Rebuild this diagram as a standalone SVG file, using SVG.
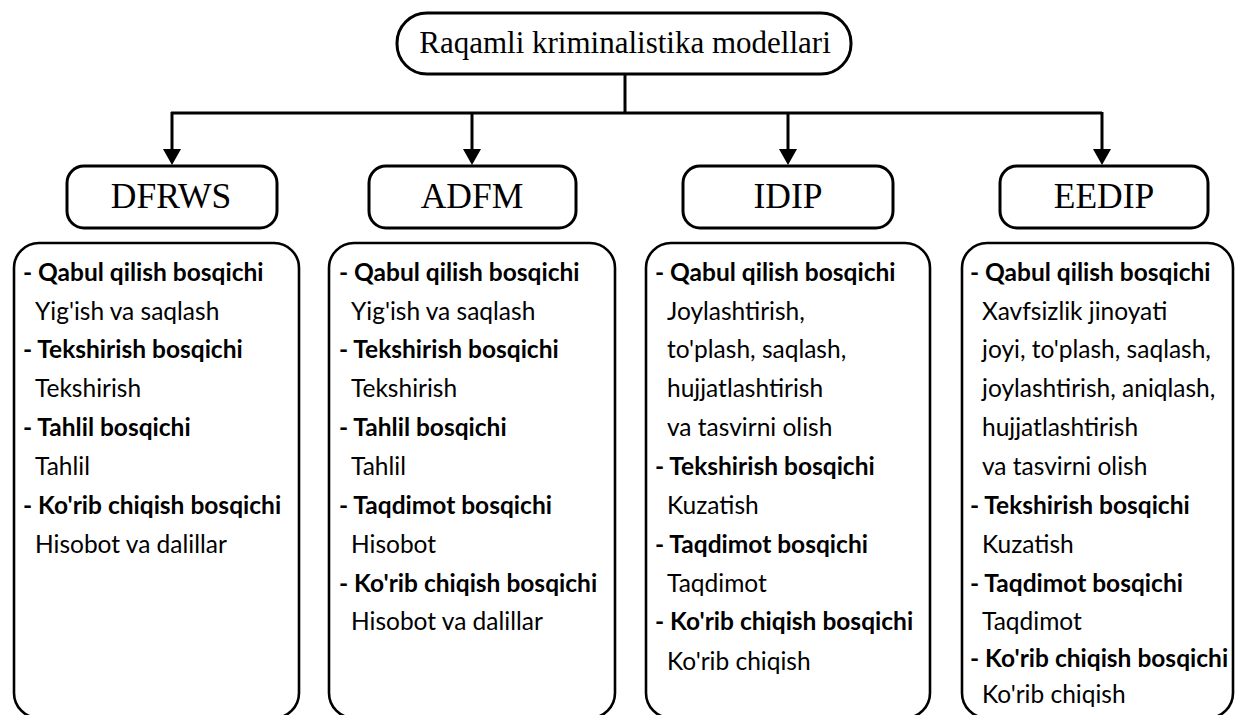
<svg xmlns="http://www.w3.org/2000/svg" width="1236" height="715" viewBox="0 0 1236 715">
<defs>
<style>
.box{fill:#fff;stroke:#000;stroke-width:3}
.cbox{fill:#fff;stroke:#000;stroke-width:2.6}
.conn{fill:none;stroke:#000;stroke-width:3}
.title{font-family:"Liberation Serif","Times New Roman",serif;font-size:31px;fill:#000}
.head{font-family:"Liberation Serif","Times New Roman",serif;font-size:35.5px;fill:#000}
.b{font-family:Lato,"Open Sans",sans-serif;font-size:24.5px;font-weight:bold;fill:#000}
.n{font-family:Lato,"Open Sans",sans-serif;font-size:24.5px;fill:#000}
</style>
<marker id="arr" markerUnits="userSpaceOnUse" markerWidth="18" markerHeight="18" refX="0" refY="9" orient="auto">
<path d="M0,0 L16,9 L0,18 z" fill="#000"/>
</marker>
</defs>
<rect width="1236" height="715" fill="#fff"/>
<g id="connectors">
<line class="conn" x1="625" y1="74" x2="625" y2="113"/>
<line class="conn" x1="171" y1="113" x2="1102" y2="113"/>
<line class="conn" x1="172" y1="112" x2="172" y2="149" marker-end="url(#arr)"/>
<line class="conn" x1="472" y1="112" x2="472" y2="149" marker-end="url(#arr)"/>
<line class="conn" x1="788" y1="112" x2="788" y2="149" marker-end="url(#arr)"/>
<line class="conn" x1="1102" y1="112" x2="1102" y2="149" marker-end="url(#arr)"/>
</g>
<g id="root">
<rect class="box" x="397" y="13" width="454" height="61" rx="30"/>
<text class="title" x="625" y="53" text-anchor="middle">Raqamli kriminalistika modellari</text>
</g>
<g id="dfrws">
<rect class="box" x="67" y="166" width="210" height="62" rx="17"/>
<text class="head" x="171" y="208" text-anchor="middle">DFRWS</text>
</g>
<g id="adfm">
<rect class="box" x="369" y="166" width="207" height="62" rx="17"/>
<text class="head" x="472" y="208" text-anchor="middle">ADFM</text>
</g>
<g id="idip">
<rect class="box" x="683" y="166" width="210" height="62" rx="17"/>
<text class="head" x="788" y="208" text-anchor="middle">IDIP</text>
</g>
<g id="eedip">
<rect class="box" x="1000" y="166" width="208" height="62" rx="17"/>
<text class="head" x="1104" y="208" text-anchor="middle">EEDIP</text>
</g>
<g id="dfrws-details">
<rect class="cbox" x="14" y="243" width="285" height="475" rx="25"/>
<text class="b" x="23" y="281">- Qabul qilish bosqichi</text>
<text class="n" x="35" y="320">Yig'ish va saqlash</text>
<text class="b" x="23" y="358">- Tekshirish bosqichi</text>
<text class="n" x="35" y="397">Tekshirish</text>
<text class="b" x="23" y="436">- Tahlil bosqichi</text>
<text class="n" x="35" y="475">Tahlil</text>
<text class="b" x="23" y="514">- Ko'rib chiqish bosqichi</text>
<text class="n" x="35" y="553">Hisobot va dalillar</text>
</g>
<g id="adfm-details">
<rect class="cbox" x="329" y="243" width="286" height="475" rx="25"/>
<text class="b" x="339" y="281">- Qabul qilish bosqichi</text>
<text class="n" x="351" y="320">Yig'ish va saqlash</text>
<text class="b" x="339" y="358">- Tekshirish bosqichi</text>
<text class="n" x="351" y="397">Tekshirish</text>
<text class="b" x="339" y="436">- Tahlil bosqichi</text>
<text class="n" x="351" y="475">Tahlil</text>
<text class="b" x="339" y="514">- Taqdimot bosqichi</text>
<text class="n" x="351" y="553">Hisobot</text>
<text class="b" x="339" y="592">- Ko'rib chiqish bosqichi</text>
<text class="n" x="351" y="630">Hisobot va dalillar</text>
</g>
<g id="idip-details">
<rect class="cbox" x="646" y="243" width="284" height="475" rx="25"/>
<text class="b" x="655" y="281">- Qabul qilish bosqichi</text>
<text class="n" x="667" y="320">Joylashtirish,</text>
<text class="n" x="667" y="358">to'plash, saqlash,</text>
<text class="n" x="667" y="397">hujjatlashtirish</text>
<text class="n" x="667" y="436">va tasvirni olish</text>
<text class="b" x="655" y="475">- Tekshirish bosqichi</text>
<text class="n" x="667" y="514">Kuzatish</text>
<text class="b" x="655" y="553">- Taqdimot bosqichi</text>
<text class="n" x="667" y="592">Taqdimot</text>
<text class="b" x="655" y="630">- Ko'rib chiqish bosqichi</text>
<text class="n" x="667" y="670">Ko'rib chiqish</text>
</g>
<g id="eedip-details">
<rect class="cbox" x="962" y="243" width="271" height="475" rx="25"/>
<text class="b" x="970" y="281">- Qabul qilish bosqichi</text>
<text class="n" x="982" y="320">Xavfsizlik jinoyati</text>
<text class="n" x="982" y="358">joyi, to'plash, saqlash,</text>
<text class="n" x="982" y="397">joylashtirish, aniqlash,</text>
<text class="n" x="982" y="436">hujjatlashtirish</text>
<text class="n" x="982" y="475">va tasvirni olish</text>
<text class="b" x="970" y="514">- Tekshirish bosqichi</text>
<text class="n" x="982" y="553">Kuzatish</text>
<text class="b" x="970" y="592">- Taqdimot bosqichi</text>
<text class="n" x="982" y="630">Taqdimot</text>
<text class="b" x="970" y="667">- Ko'rib chiqish bosqichi</text>
<text class="n" x="982" y="703">Ko'rib chiqish</text>
</g>
</svg>
